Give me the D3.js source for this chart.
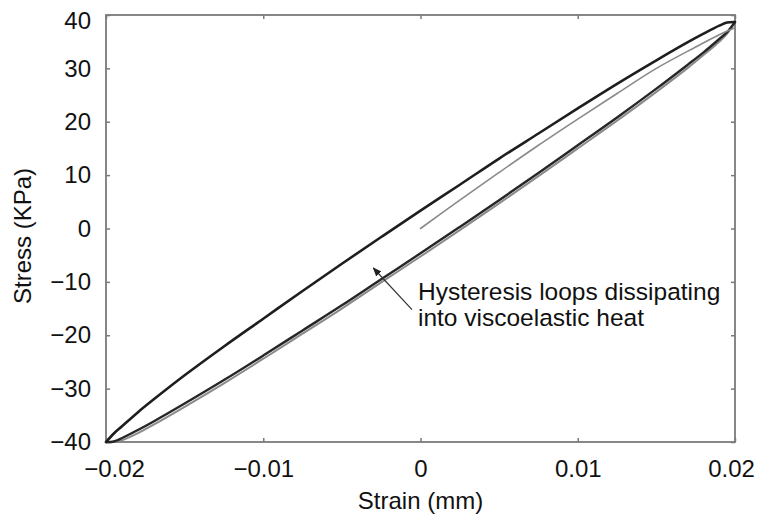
<!DOCTYPE html>
<html>
<head>
<meta charset="utf-8">
<script src="https://cdn.jsdelivr.net/npm/d3@7"></script>
<style>
  html, body { margin: 0; padding: 0; background: #fff; }
  svg { display: block; font-family: "Liberation Sans", Arial, Helvetica, sans-serif; }
</style>
</head>
<body>
<svg id="chart" width="757" height="525"></svg>
<script>
// Strain samples shared by the loop branches
const strainGrid = [-0.02, -0.0195, -0.019, -0.018, -0.017, -0.015, -0.0125, -0.01, -0.0075, -0.005, -0.0025,
                    0, 0.0025, 0.005, 0.0075, 0.01, 0.0125, 0.015, 0.017, 0.018, 0.019, 0.0195, 0.02];
// Unloading (upper) branch of the hysteresis loop, KPa
const upperStress = [-40, -38.4, -37.1, -34.5, -32.1, -27.5, -22.1, -16.9, -11.7, -6.6, -1.6,
                     3.35, 8.2, 13.1, 17.8, 22.5, 27.1, 31.5, 34.9, 36.5, 38.0, 38.6, 38.7];
// Loading (lower) branch, first cycle
const lowerStress = [-40, -39.9, -39.3, -37.8, -36.2, -32.8, -28.4, -23.8, -19.1, -14.4, -9.5,
                     -4.65, 0.3, 5.3, 10.4, 15.6, 20.8, 26.2, 30.7, 33.0, 35.5, 36.8, 38.7];
// Loading (lower) branch, later cycle
const lowerStress2 = [-40, -40.0, -39.7, -38.4, -36.8, -33.4, -29.0, -24.4, -19.7, -15.0, -10.1,
                      -5.25, -0.3, 4.7, 9.8, 15.0, 20.2, 25.6, 30.1, 32.5, 35.0, 36.5, 38.7];
// Initial loading curve from rest
const initStrain = [0, 0.0025, 0.005, 0.0075, 0.01, 0.0125, 0.015, 0.0175, 0.019, 0.02];
const initStress = [0, 5.3, 10.5, 15.6, 20.5, 25.3, 30.0, 34.0, 36.3, 37.6];

const xTicks = [-0.02, -0.01, 0, 0.01, 0.02];
const yTicks = [-40, -30, -20, -10, 0, 10, 20, 30, 40];

const annotationLines = ["Hysteresis loops dissipating", "into viscoelastic heat"];
const arrowFrom = [-0.00054, -15.2];
const arrowTo = [-0.0030, -7.4];
const labelAt = [-0.00016, -13.4];

const W = 757, H = 525;
const margin = { top: 15, right: 22, bottom: 83, left: 106 };
const iw = W - margin.left - margin.right;
const ih = H - margin.top - margin.bottom;

const svg = d3.select("#chart");
const g = svg.append("g").attr("transform", `translate(${margin.left},${margin.top})`);

const x = d3.scaleLinear().domain([-0.02, 0.02]).range([0, iw]);
const y = d3.scaleLinear().domain([-40, 40]).range([ih, 0]);

const fmtX = d => d === 0 ? "0" : d3.format(".2f")(d);
const fmtY = d3.format("d");

const frameColor = "#7a7a7a";
const tickLen = 4;

// Axes with inward ticks on all four sides
const axBottom = g.append("g").attr("transform", `translate(0,${ih})`)
  .call(d3.axisBottom(x).tickValues(xTicks).tickFormat(fmtX).tickSizeInner(-tickLen).tickSizeOuter(0).tickPadding(18));
const axLeft = g.append("g")
  .call(d3.axisLeft(y).tickValues(yTicks).tickFormat(fmtY).tickSizeInner(-tickLen).tickSizeOuter(0).tickPadding(15));
const axTop = g.append("g")
  .call(d3.axisTop(x).tickValues(xTicks).tickFormat("").tickSizeInner(-tickLen).tickSizeOuter(0));
const axRight = g.append("g").attr("transform", `translate(${iw},0)`)
  .call(d3.axisRight(y).tickValues(yTicks).tickFormat("").tickSizeInner(-tickLen).tickSizeOuter(0));

[axBottom, axLeft, axTop, axRight].forEach(a => {
  a.select(".domain").remove();
  a.selectAll(".tick line").attr("stroke", frameColor).attr("stroke-width", 1.5);
  a.selectAll(".tick text").attr("fill", "#111").attr("font-size", 24)
    .attr("font-family", "'Liberation Sans', Arial, sans-serif");
});

// Keep the outermost labels inside the canvas
axBottom.selectAll(".tick text").attr("dx", d => d === xTicks[0] ? 8 : d === xTicks[xTicks.length - 1] ? -4 : 0);
axLeft.selectAll(".tick text").attr("dy", d => d === yTicks[yTicks.length - 1] ? "0.55em" : "0.32em");

// Plot frame
g.append("rect").attr("x", 0).attr("y", 0).attr("width", iw).attr("height", ih)
  .attr("fill", "none").attr("stroke", frameColor).attr("stroke-width", 1.8);

// Curves
const line = d3.line().curve(d3.curveCatmullRom.alpha(0.5)).x(d => x(d[0])).y(d => y(d[1]));
const curves = g.append("g").attr("fill", "none").attr("stroke-linejoin", "round").attr("stroke-linecap", "round");

curves.append("path").datum(strainGrid.map((s, i) => [s, lowerStress2[i]]))
  .attr("d", line).attr("stroke", "#8a8a8a").attr("stroke-width", 2);
curves.append("path").datum(strainGrid.map((s, i) => [s, lowerStress[i]]))
  .attr("d", line).attr("stroke", "#262626").attr("stroke-width", 2.4);
curves.append("path").datum(initStrain.map((s, i) => [s, initStress[i]]))
  .attr("d", line).attr("stroke", "#8a8a8a").attr("stroke-width", 1.6);
curves.append("path").datum(strainGrid.map((s, i) => [s, upperStress[i]]))
  .attr("d", line).attr("stroke", "#1e1e1e").attr("stroke-width", 2.6);

// Annotation with arrow
svg.append("defs").append("marker")
  .attr("id", "arrowhead").attr("viewBox", "0 0 10 10").attr("refX", 9).attr("refY", 5)
  .attr("markerWidth", 9).attr("markerHeight", 9).attr("markerUnits", "userSpaceOnUse")
  .attr("orient", "auto")
  .append("path").attr("d", "M0,1 L10,5 L0,9 Z").attr("fill", "#222");

g.append("line")
  .attr("x1", x(arrowFrom[0])).attr("y1", y(arrowFrom[1]))
  .attr("x2", x(arrowTo[0])).attr("y2", y(arrowTo[1]))
  .attr("stroke", "#333").attr("stroke-width", 1.2).attr("marker-end", "url(#arrowhead)");

const note = g.append("text").attr("x", x(labelAt[0])).attr("y", y(labelAt[1]))
  .attr("font-size", 24.5).attr("fill", "#111");
annotationLines.forEach((t, i) => {
  note.append("tspan").attr("x", x(labelAt[0])).attr("dy", i === 0 ? 0 : "1.08em").text(t);
});

// Axis titles
svg.append("text").attr("x", margin.left + iw / 2).attr("y", 509)
  .attr("text-anchor", "middle").attr("font-size", 24).attr("fill", "#111").text("Strain (mm)");
svg.append("text").attr("transform", `translate(31,236) rotate(-90)`)
  .attr("text-anchor", "middle").attr("font-size", 24).attr("fill", "#111").text("Stress (KPa)");
</script>
</body>
</html>
